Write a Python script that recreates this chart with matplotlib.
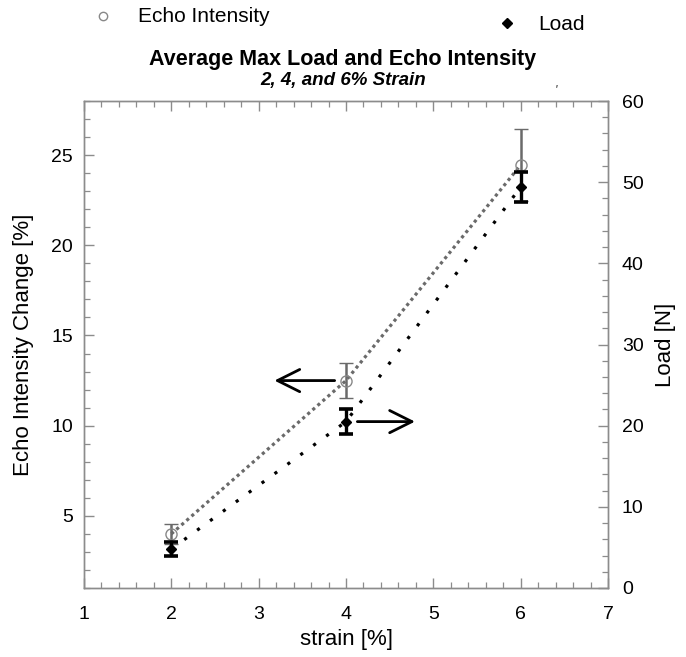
import matplotlib
matplotlib.use("Agg")
import matplotlib.pyplot as plt
from matplotlib.lines import Line2D
from matplotlib.ticker import MultipleLocator

plt.rcParams['font.family'] = ['Liberation Sans', 'DejaVu Sans']

# data
strain = [2, 4, 6]
echo_mean = [4.0, 12.5, 24.45]
echo_err = [0.55, 0.95, 2.0]
load_mean = [4.8, 20.5, 49.4]
load_err = [0.85, 1.5, 1.9]

GRAY = '#6a6a6a'
SPINE = '#8c8c8c'
TICK_FS = 14
LABEL_FS = 16

fig = plt.figure(figsize=(6.86, 6.57), dpi=100)
fig.subplots_adjust(left=84 / 686, right=608 / 686, bottom=1 - 588 / 657, top=1 - 101 / 657)
ax = fig.add_subplot(111)
ax2 = ax.twinx()

# dotted connecting lines
ax.plot(strain, echo_mean, color=GRAY, lw=2.3, linestyle=(0, (1, 1.1)), zorder=2)
ax2.plot(strain, load_mean, color='black', lw=2.3, linestyle=(0, (1, 4)), zorder=2)

# error bars + markers
ax.errorbar(strain, echo_mean, yerr=echo_err, fmt='o', mfc='none', mec='#888888',
            ms=8, mew=1.0, ecolor=GRAY, elinewidth=1.8, capsize=5, capthick=1.6, zorder=3)
ax2.errorbar(strain, load_mean, yerr=load_err, fmt='D', color='black', ms=5.5,
             ecolor='black', elinewidth=2.4, capsize=5, capthick=2.6, zorder=3)

# arrows pointing to the matching axes
arrow_kw = dict(arrowstyle='->,head_length=0.8,head_width=0.4', lw=2.0,
                color='black', mutation_scale=20, shrinkA=0, shrinkB=0)
ax.annotate('', xy=(strain[1] - 0.82, echo_mean[1]), xytext=(strain[1] - 0.13, echo_mean[1]),
            arrowprops=arrow_kw)
ax2.annotate('', xy=(strain[1] + 0.79, load_mean[1]), xytext=(strain[1] + 0.13, load_mean[1]),
             arrowprops=arrow_kw)

# axes limits and ticks
ax.set_xlim(1, 7)
ax.set_ylim(1, 28)
ax2.set_ylim(0, 60)
ax.xaxis.set_major_locator(MultipleLocator(1))
ax.xaxis.set_minor_locator(MultipleLocator(0.2))
ax.set_yticks([5, 10, 15, 20, 25])
ax.yaxis.set_minor_locator(MultipleLocator(1))
ax2.yaxis.set_major_locator(MultipleLocator(10))
ax2.yaxis.set_minor_locator(MultipleLocator(2))

for a in (ax, ax2):
    for s in a.spines.values():
        s.set_color(SPINE)
        s.set_linewidth(1.0)
ax.tick_params(which='both', direction='in', top=True, right=False, color=SPINE, labelsize=TICK_FS)
ax.tick_params(which='major', length=7, width=1.0)
ax.tick_params(which='minor', length=4, width=0.9)
ax.tick_params(axis='x', pad=13)
ax.tick_params(axis='y', pad=8)
ax2.tick_params(which='both', direction='in', color=SPINE, labelsize=TICK_FS, pad=10)
ax2.tick_params(which='major', length=7, width=1.0)
ax2.tick_params(which='minor', length=4, width=0.9)

ax.set_xlabel('strain [%]', fontsize=LABEL_FS)
ax.set_ylabel('Echo Intensity Change [%]', fontsize=LABEL_FS)
ax2.set_ylabel('Load [N]', fontsize=LABEL_FS)
ax.xaxis.set_label_coords(0.5, -(640 - 588) / 487)
ax.yaxis.set_label_coords(-(84 - 24) / 524, 0.5)
ax2.yaxis.set_label_coords(1 + (666 - 608) / 524, 0.5)
ax.xaxis.label.set_va('center')
ax.yaxis.label.set_va('center')
ax2.yaxis.label.set_va('center')

# titles
fig.text(343 / 686, 1 - 60 / 657, 'Average Max Load and Echo Intensity',
         ha='center', va='center', fontsize=15.5, fontweight='bold')
fig.text(343 / 686, 1 - 80 / 657, '2, 4, and 6% Strain',
         ha='center', va='center', fontsize=13.5, fontweight='bold', style='italic')
# small stray tick mark seen above the top axis in the original
fig.text(556 / 686, 1 - 90 / 657, "'", ha='center', va='center', fontsize=9,
         style='italic', color='#333333')

# legend entries at the top
fig.add_artist(Line2D([103 / 686], [1 - 16 / 657], marker='o', mfc='none', mec='#888888',
                      ms=6, mew=1.0, linestyle='none'))
fig.text(138 / 686, 1 - 17 / 657, 'Echo Intensity', ha='left', va='center', fontsize=15)
fig.add_artist(Line2D([507 / 686], [1 - 23 / 657], marker='D', color='black', ms=5,
                      linestyle='none'))
fig.text(538 / 686, 1 - 24 / 657, 'Load', ha='left', va='center', fontsize=15)

fig.savefig('out.png', dpi=100)
